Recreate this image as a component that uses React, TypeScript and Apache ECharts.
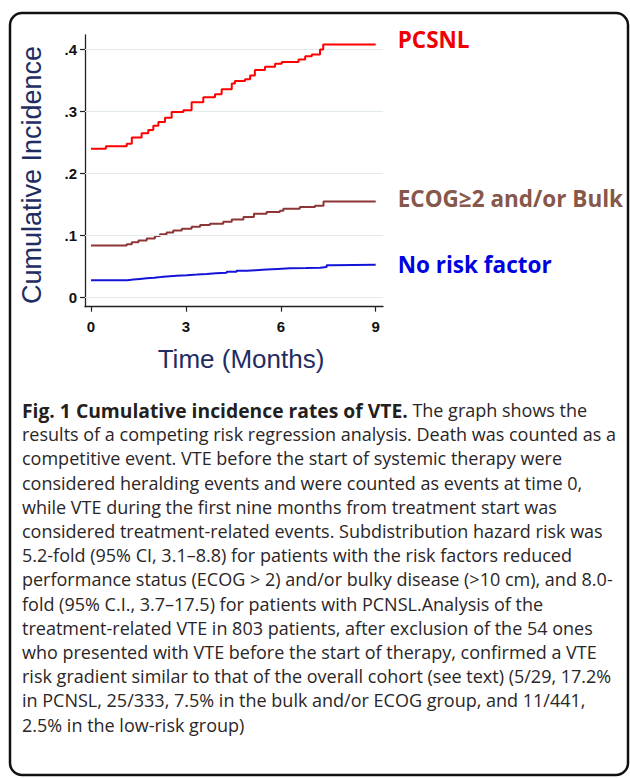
import React, { useEffect, useRef } from "react";
import * as echarts from "echarts";

// ---- data ----
const monthTicks = [0, 3, 6, 9];
const incidenceTicks = [0, 0.1, 0.2, 0.3, 0.4];

const seriesNames = ["PCSNL", "ECOG≥2 and/or Bulk", "No risk factor"];

// [time (months), cumulative incidence] at each step change
const pcnslSteps = [
  [0, 0.24], [0.47, 0.244], [1.13, 0.248], [1.29, 0.258], [1.6, 0.265], [1.81, 0.27],
  [1.97, 0.277], [2.13, 0.283], [2.34, 0.29], [2.55, 0.299], [2.92, 0.302], [3.18, 0.315],
  [3.55, 0.323], [3.92, 0.328], [4.13, 0.336], [4.45, 0.345], [4.55, 0.349], [4.87, 0.352],
  [5.03, 0.358], [5.18, 0.367], [5.5, 0.372], [5.82, 0.377], [6.03, 0.38], [6.56, 0.384],
  [6.77, 0.389], [6.98, 0.392], [7.24, 0.4], [7.34, 0.408], [9, 0.408],
];

const ecogSteps = [
  [0, 0.084], [1.13, 0.086], [1.29, 0.089], [1.5, 0.092], [1.76, 0.095], [2.02, 0.099],
  [2.18, 0.102], [2.39, 0.105], [2.6, 0.108], [2.87, 0.111], [3.18, 0.114], [3.45, 0.117],
  [3.76, 0.119], [4.18, 0.122], [4.45, 0.126], [4.82, 0.13], [5.15, 0.135], [5.55, 0.138],
  [5.97, 0.14], [6.08, 0.143], [6.6, 0.146], [7.08, 0.148], [7.35, 0.155], [9, 0.155],
];

const noRiskSteps = [
  [0, 0.028], [1.15, 0.029], [1.34, 0.03], [1.55, 0.031], [1.76, 0.032], [2.0, 0.033],
  [2.2, 0.034], [2.39, 0.035], [2.7, 0.036], [3.03, 0.037], [3.35, 0.038], [3.66, 0.039],
  [3.95, 0.04], [4.29, 0.0415], [4.6, 0.043], [4.92, 0.044], [5.2, 0.045], [5.55, 0.046],
  [5.9, 0.047], [6.29, 0.0475], [6.8, 0.048], [7.24, 0.049], [7.45, 0.052], [7.6, 0.053],
  [9, 0.053],
];

const yAxisTitle = "Cumulative Incidence";
const xAxisTitle = "Time (Months)";

const captionBold = "Fig. 1 Cumulative incidence rates of VTE.";
const captionFirstRest = " The graph shows the";
const captionLines = [
  "results of a competing risk regression analysis. Death was counted as a",
  "competitive event. VTE before the start of systemic therapy were",
  "considered heralding events and were counted as events at time 0,",
  "while VTE during the first nine months from treatment start was",
  "considered treatment-related events. Subdistribution hazard risk was",
  "5.2-fold (95% CI, 3.1–8.8) for patients with the risk factors reduced",
  "performance status (ECOG > 2) and/or bulky disease (>10 cm), and 8.0-",
  "fold (95% C.I., 3.7–17.5) for patients with PCNSL.Analysis of the",
  "treatment-related VTE in 803 patients, after exclusion of the 54 ones",
  "who presented with VTE before the start of therapy, confirmed a VTE",
  "risk gradient similar to that of the overall cohort (see text) (5/29, 17.2%",
  "in PCNSL, 25/333, 7.5% in the bulk and/or ECOG group, and 11/441,",
  "2.5% in the low-risk group)",
];

const lineColors = ["#ff0000", "#8e3535", "#1414d6"];
const labelColors = ["#f00000", "#87574a", "#0000e0"];
const labelOffsetsY = [-5, -3, 0];

const W = 630;
const H = 778;

export default function App() {
  const ref = useRef<HTMLDivElement>(null);

  useEffect(() => {
    if (!ref.current) return;
    const chart = echarts.init(ref.current, undefined, { renderer: "svg" });

    const axisFont = "'Liberation Sans', Arial, sans-serif";
    const labelFont = "'Open Sans', sans-serif";

    // data grid geometry
    const gL = 91, gT = 49.5, gW = 284.7, gH = 248;
    // frame (offset axes) geometry
    const fL = 85, fT = 35, fR = 383, fB = 306.7;
    const xPer = gW / 9;
    const yPer = gH / 0.4;
    const fxMin = (fL - gL) / xPer;
    const fxMax = (fR - gL) / xPer;
    const fyMin = (gT + gH - fB) / yPer;
    const fyMax = (gT + gH - fT) / yPer;

    const stepSeries = [pcnslSteps, ecogSteps, noRiskSteps].map((d, i) => ({
      type: "line",
      name: seriesNames[i],
      xAxisIndex: 0,
      yAxisIndex: 0,
      step: "end",
      data: d,
      clip: false,
      showSymbol: false,
      symbol: "none",
      lineStyle: { color: lineColors[i], width: 2 },
      itemStyle: { color: lineColors[i] },
      endLabel: {
        show: true,
        formatter: "{a}",
        distance: 0,
        offset: [22, labelOffsetsY[i]],
        color: labelColors[i],
        fontSize: 22.5,
        fontWeight: "bold",
        fontFamily: labelFont,
      },
      silent: true,
      z: 5 - i,
    }));

    const captionGraphics: any[] = [];
    const capX = 22;
    const capY0 = 410;
    const capDY = 24.2;
    const capStyle = { fontSize: 18, fontFamily: labelFont, fill: "#2a2627" };
    captionGraphics.push({
      type: "text",
      x: capX,
      y: capY0,
      style: {
        text: `{b|${captionBold}}${captionFirstRest}`,
        ...capStyle,
        verticalAlign: "middle",
        rich: {
          b: { fontWeight: "bold", fontSize: 19.3, fontFamily: labelFont, fill: "#231f20" },
        },
      },
    });
    captionLines.forEach((t, i) => {
      captionGraphics.push({
        type: "text",
        x: capX,
        y: capY0 + capDY * (i + 1),
        style: { text: t, ...capStyle, verticalAlign: "middle" },
      });
    });

    const option: any = {
      animation: false,
      backgroundColor: "#ffffff",
      grid: [
        { left: gL, top: gT, width: gW, height: gH, containLabel: false },
        { left: fL, top: fT, width: fR - fL, height: fB - fT, containLabel: false },
      ],
      xAxis: [
        {
          gridIndex: 0,
          type: "value",
          min: 0,
          max: 9,
          interval: 3,
          offset: fB - (gT + gH),
          axisLine: { show: false, onZero: false },
          axisTick: { show: true, length: 5, lineStyle: { color: "#222", width: 1.2 } },
          axisLabel: {
            margin: 12,
            fontSize: 15,
            fontWeight: "bold",
            color: "#111",
            fontFamily: axisFont,
            customValues: monthTicks,
          },
          splitLine: { show: false },
        },
        {
          gridIndex: 1,
          type: "value",
          min: fxMin,
          max: fxMax,
          axisLine: { show: true, onZero: false, lineStyle: { color: "#222", width: 1.3 } },
          axisTick: { show: false },
          axisLabel: { show: false },
          splitLine: { show: false },
        },
      ],
      yAxis: [
        {
          gridIndex: 0,
          type: "value",
          min: 0,
          max: 0.4,
          interval: 0.1,
          offset: gL - fL,
          axisLine: { show: false, onZero: false },
          axisTick: { show: true, length: 5, lineStyle: { color: "#222", width: 1.2 } },
          axisLabel: {
            margin: 8,
            fontSize: 15,
            fontWeight: "bold",
            color: "#111",
            fontFamily: axisFont,
            formatter: (v: number) => (v === 0 ? "0" : v.toFixed(1).replace(/^0\./, ".")),
          },
          splitLine: { show: false },
        },
        {
          gridIndex: 1,
          type: "value",
          min: fyMin,
          max: fyMax,
          axisLine: { show: true, onZero: false, lineStyle: { color: "#222", width: 1.3 } },
          axisTick: { show: false },
          axisLabel: { show: false },
          splitLine: { show: false },
        },
      ],
      series: [
        {
          type: "line",
          xAxisIndex: 1,
          yAxisIndex: 1,
          data: [],
          silent: true,
          markLine: {
            silent: true,
            symbol: "none",
            label: { show: false },
            lineStyle: { color: "#e3eaea", width: 1, type: "solid" },
            data: incidenceTicks.map((v) => ({ yAxis: v })),
          },
          z: 1,
        },
        ...stepSeries,
      ],
      graphic: [
        {
          type: "rect",
          shape: { x: 10, y: 13, width: 618, height: 762, r: 12 },
          style: { fill: "none", stroke: "#111", lineWidth: 2.5 },
          silent: true,
        },
        {
          type: "text",
          x: 32,
          y: 175,
          rotation: Math.PI / 2,
          style: {
            text: yAxisTitle,
            fontSize: 27,
            fontFamily: axisFont,
            fill: "#1f2d62",
            align: "center",
            verticalAlign: "middle",
          },
        },
        {
          type: "text",
          x: 241,
          y: 359,
          style: {
            text: xAxisTitle,
            fontSize: 26,
            fontFamily: axisFont,
            fill: "#1f2d62",
            align: "center",
            verticalAlign: "middle",
          },
        },
        ...captionGraphics,
      ],
    };

    chart.setOption(option);
    return () => chart.dispose();
  }, []);

  return (
    <div
      ref={ref}
      style={{ position: "absolute", left: 0, top: 0, width: W, height: H, background: "#fff" }}
    />
  );
}
